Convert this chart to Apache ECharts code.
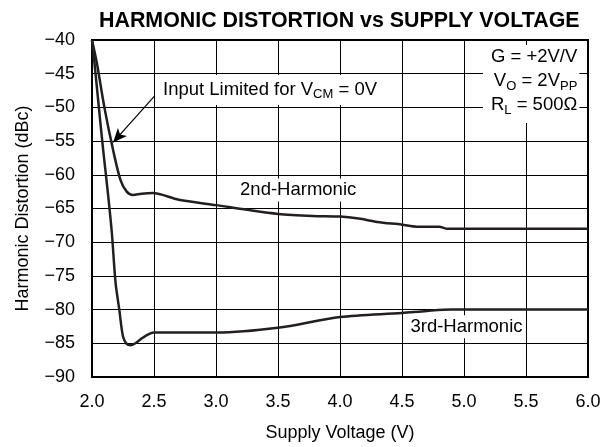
<!DOCTYPE html>
<html>
<head>
<meta charset="utf-8">
<script src="https://cdn.jsdelivr.net/npm/echarts@6/dist/echarts.min.js"></script>
<style>
  html, body { margin: 0; padding: 0; background: #fff; }
  #main { width: 612px; height: 447px; }
</style>
</head>
<body>
<div id="main"></div>
<script>
// supply voltage (V) / distortion (dBc)
const volt2 = [2.0, 2.04, 2.1, 2.17, 2.23, 2.28, 2.33, 2.4, 2.49, 2.7, 3.0, 3.25, 3.5, 3.78, 4.0, 4.15, 4.3, 4.5, 4.62, 4.8, 4.86, 5.5, 6.0];
const harm2 = [-40, -43.5, -50, -56.3, -60.8, -62.5, -63.0, -62.8, -62.7, -63.7, -64.5, -65.2, -65.8, -66.1, -66.2, -66.5, -67.0, -67.4, -67.7, -67.7, -68.0, -68.0, -68.0];

const volt3 = [2.0, 2.02, 2.05, 2.09, 2.13, 2.16, 2.19, 2.22, 2.25, 2.28, 2.31, 2.35, 2.4, 2.45, 2.5, 3.0, 3.5, 4.0, 4.5, 4.7, 4.9, 5.5, 6.0];
const harm3 = [-40, -43.4, -49, -56.3, -63, -68.6, -76, -80, -84, -85.1, -85.3, -85.0, -84.3, -83.7, -83.4, -83.4, -82.7, -81.1, -80.5, -80.2, -80.0, -80.0, -80.0];

const font = '"Liberation Sans", Arial, Helvetica, sans-serif';
const ink = '#231f20';

const chart = echarts.init(document.getElementById('main'));
const toPairs = (xs, ys) => xs.map((x, i) => [x, ys[i]]);

// text notes, anchored in data coordinates
const subStyle = { fontFamily: font, fontSize: 13, color: '#000', verticalAlign: 'bottom', padding: [9, 0, 0, 0] };
const notes = [
  {
    coord: [2.508, -47.4],
    label: {
      formatter: 'Input Limited for V{sub|CM} = 0V',
      align: 'left', verticalAlign: 'middle',
      padding: [4, 10, 4, 8],
      rich: { sub: subStyle }
    }
  },
  {
    coord: [3.17, -62.25],
    label: { formatter: '2nd-Harmonic', align: 'left', verticalAlign: 'middle', padding: [2, 3] }
  },
  {
    coord: [5.02, -82.55],
    label: { formatter: '3rd-Harmonic', align: 'center', verticalAlign: 'middle', padding: [2, 3] }
  },
  {
    coord: [5.93, -40.74],
    label: {
      formatter: 'G = +2V/V\nV{sub|O} = 2V{sub|PP}\nR{sub|L} = 500\u03A9',
      align: 'right', verticalAlign: 'top',
      lineHeight: 24,
      padding: [0, 2, 6, 8],
      rich: { sub: { ...subStyle, lineHeight: 24 } }
    }
  }
];

chart.setOption({
  animation: false,
  title: {
    text: 'HARMONIC DISTORTION vs SUPPLY VOLTAGE',
    left: 94, top: 6,
    textStyle: { fontFamily: font, fontSize: 21.4, fontWeight: 'bold', color: '#000' }
  },
  grid: { left: 92, right: 24, top: 40, bottom: 70, show: true, borderColor: '#000', borderWidth: 2 },
  xAxis: {
    type: 'value', min: 2, max: 6, interval: 0.5,
    name: 'Supply Voltage (V)', nameLocation: 'middle', nameGap: 47,
    nameTextStyle: { fontFamily: font, fontSize: 18, color: '#000' },
    axisLine: { show: false }, axisTick: { show: false },
    axisLabel: { margin: 16, fontFamily: font, fontSize: 18, color: '#000', formatter: v => v.toFixed(1) },
    splitLine: { show: true, lineStyle: { color: '#000', width: 1 } }
  },
  yAxis: {
    type: 'value', min: -90, max: -40, interval: 5,
    name: 'Harmonic Distortion (dBc)', nameLocation: 'middle', nameGap: 60,
    nameTextStyle: { fontFamily: font, fontSize: 18, color: '#000' },
    axisLine: { show: false }, axisTick: { show: false },
    axisLabel: { margin: 17, fontFamily: font, fontSize: 18, color: '#000', formatter: v => '\u2212' + Math.abs(v) },
    splitLine: { show: true, lineStyle: { color: '#000', width: 1 } }
  },
  series: [
    {
      name: '2nd-Harmonic', type: 'line', data: toPairs(volt2, harm2),
      smooth: 0.3, showSymbol: false,
      lineStyle: { color: ink, width: 2.5 }, z: 3,
      markPoint: {
        silent: true,
        symbol: 'rect', symbolSize: 1,
        itemStyle: { color: 'rgba(0,0,0,0)' },
        label: {
          show: true, position: 'inside',
          fontFamily: font, fontSize: 18.5, color: '#000',
          backgroundColor: '#fff'
        },
        data: notes
      }
    },
    {
      name: '3rd-Harmonic', type: 'line', data: toPairs(volt3, harm3),
      smooth: 0.3, showSymbol: false,
      lineStyle: { color: ink, width: 2.5 }, z: 3,
      markLine: {
        silent: true, symbol: ['none', 'arrow'], symbolSize: [9, 14], label: { show: false },
        lineStyle: { color: '#000', width: 1.2, type: 'solid' },
        data: [[{ coord: [2.52, -48] }, { coord: [2.17, -55.2] }]]
      }
    }
  ]
});
</script>
</body>
</html>
